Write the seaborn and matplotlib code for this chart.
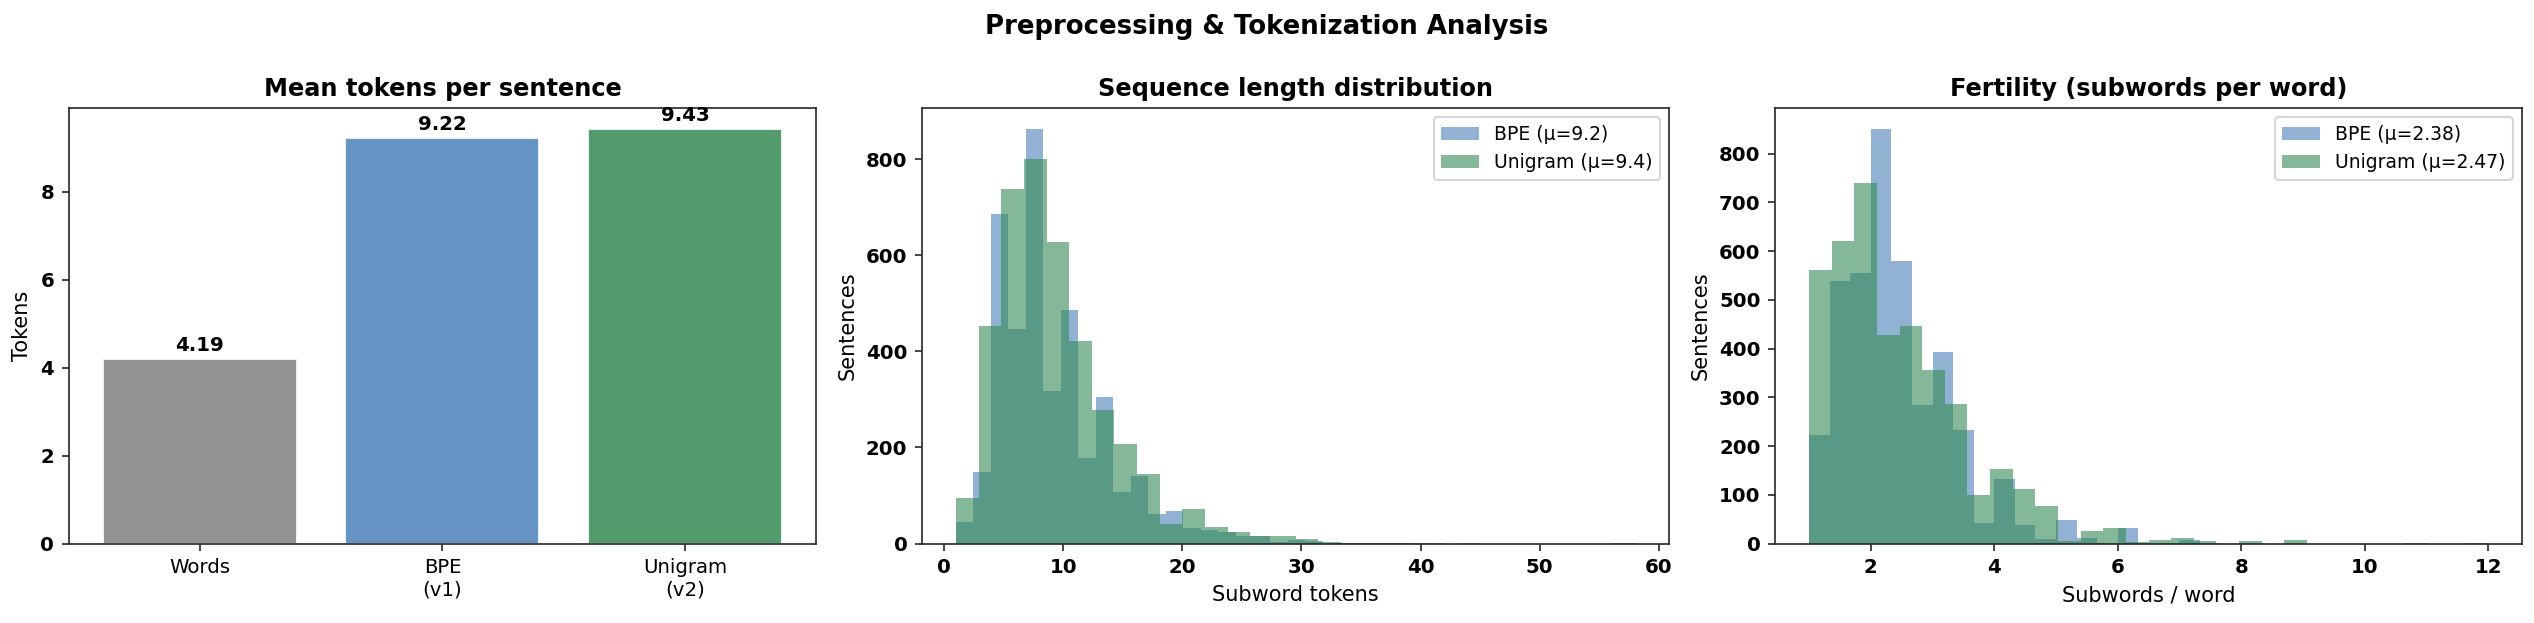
import numpy as np
import pandas as pd
import matplotlib
matplotlib.use("Agg")
import matplotlib.pyplot as plt
import seaborn as sns

# Style
sns.set_style("ticks")
plt.rcParams["font.family"] = ["DejaVu Sans"]
plt.rcParams.update({"text.color": "black", "axes.labelcolor": "black",
                     "xtick.labelcolor": "black", "ytick.labelcolor": "black"})

# Mean tokens per sentence
methods = ["Words", "BPE\n(v1)", "Unigram\n(v2)"]
mean_tokens = [4.19, 9.22, 9.43]
bar_colors = ["#808080", "#4a80b8", "#338a54"]

# Sequence length histograms (30 bins each, counts read per bin)
seq_bpe_range = (1, 45)
seq_bpe_counts = [44, 148, 685, 447, 863, 317, 486, 178, 304, 107,
                  141, 61, 68, 32, 28, 24, 16, 16, 3, 8,
                  5, 1, 2, 1, 1, 1, 0, 1, 0, 1]
seq_uni_range = (1, 58)
seq_uni_counts = [95, 452, 737, 800, 627, 421, 277, 208, 145, 40,
                  72, 34, 23, 16, 16, 10, 4, 1, 1, 1,
                  1, 0, 0, 0, 0, 0, 0, 0, 0, 1]
seq_means = {"BPE": 9.2, "Unigram": 9.4}

# Fertility histograms
fert_bpe_range = (1, 11)
fert_bpe_counts = [223, 539, 555, 851, 580, 285, 393, 233, 42, 132,
                   38, 9, 48, 11, 1, 31, 2, 1, 7, 1,
                   0, 0, 0, 0, 0, 0, 0, 0, 0, 1]
fert_uni_range = (1, 12)
fert_uni_counts = [562, 621, 740, 428, 447, 356, 287, 99, 153, 111,
                   77, 5, 25, 31, 3, 7, 11, 5, 0, 5,
                   0, 7, 0, 0, 0, 0, 0, 0, 0, 1]
fert_means = {"BPE": 2.38, "Unigram": 2.47}

hist_colors = {"BPE": "#4a80b8", "Unigram": "#338a54"}


def hist_from_counts(ax, counts, value_range, color, label):
    # one weighted point per bin centre, binned over the same range
    edges = np.linspace(value_range[0], value_range[1], len(counts) + 1)
    df = pd.DataFrame({"value": (edges[:-1] + edges[1:]) / 2, "n": counts})
    sns.histplot(data=df, x="value", weights="n", bins=len(counts),
                 binrange=value_range, color=color, alpha=0.6, linewidth=0,
                 label=label, ax=ax)


fig, axes = plt.subplots(1, 3, figsize=(2534 / 150, 623 / 150), dpi=150)
fig.subplots_adjust(left=0.0272, right=0.9953, bottom=0.1276, top=0.8266, wspace=0.142)

# 1. Mean tokens per sentence
ax = axes[0]
sns.barplot(x=methods, y=mean_tokens, hue=methods, palette=bar_colors,
            saturation=1, alpha=0.85, legend=False, ax=ax)
for c in ax.containers:
    ax.bar_label(c, fmt="%.2f", padding=2, fontsize=9.5, fontweight="bold")
ax.set_xlim(-0.54, 2.54)
ax.set_title("Mean tokens per sentence", fontsize=11.5, fontweight="bold")
ax.set_ylabel("Tokens", fontsize=10)

# 2. Sequence length distribution
ax = axes[1]
hist_from_counts(ax, seq_bpe_counts, seq_bpe_range, hist_colors["BPE"],
                 f"BPE (\u03bc={seq_means['BPE']})")
hist_from_counts(ax, seq_uni_counts, seq_uni_range, hist_colors["Unigram"],
                 f"Unigram (\u03bc={seq_means['Unigram']})")
ax.set_title("Sequence length distribution", fontsize=11.5, fontweight="bold")
ax.set_xlabel("Subword tokens", fontsize=10)
ax.set_ylabel("Sentences", fontsize=10)
ax.legend(loc="upper right", fontsize=9)

# 3. Fertility
ax = axes[2]
hist_from_counts(ax, fert_bpe_counts, fert_bpe_range, hist_colors["BPE"],
                 f"BPE (\u03bc={fert_means['BPE']})")
hist_from_counts(ax, fert_uni_counts, fert_uni_range, hist_colors["Unigram"],
                 f"Unigram (\u03bc={fert_means['Unigram']})")
ax.set_title("Fertility (subwords per word)", fontsize=11.5, fontweight="bold")
ax.set_xlabel("Subwords / word", fontsize=10)
ax.set_ylabel("Sentences", fontsize=10)
ax.legend(loc="upper right", fontsize=9)

for ax in axes:
    ax.tick_params(labelsize=9.5)
# numeric tick labels are drawn heavier in the reference
for ax in axes:
    for lab in ax.get_yticklabels():
        lab.set_fontweight("bold")
for ax in axes[1:]:
    for lab in ax.get_xticklabels():
        lab.set_fontweight("bold")

fig.suptitle("Preprocessing & Tokenization Analysis", fontsize=12.5,
             fontweight="bold", y=0.957, va="center")

fig.savefig("out.png", dpi=150)
